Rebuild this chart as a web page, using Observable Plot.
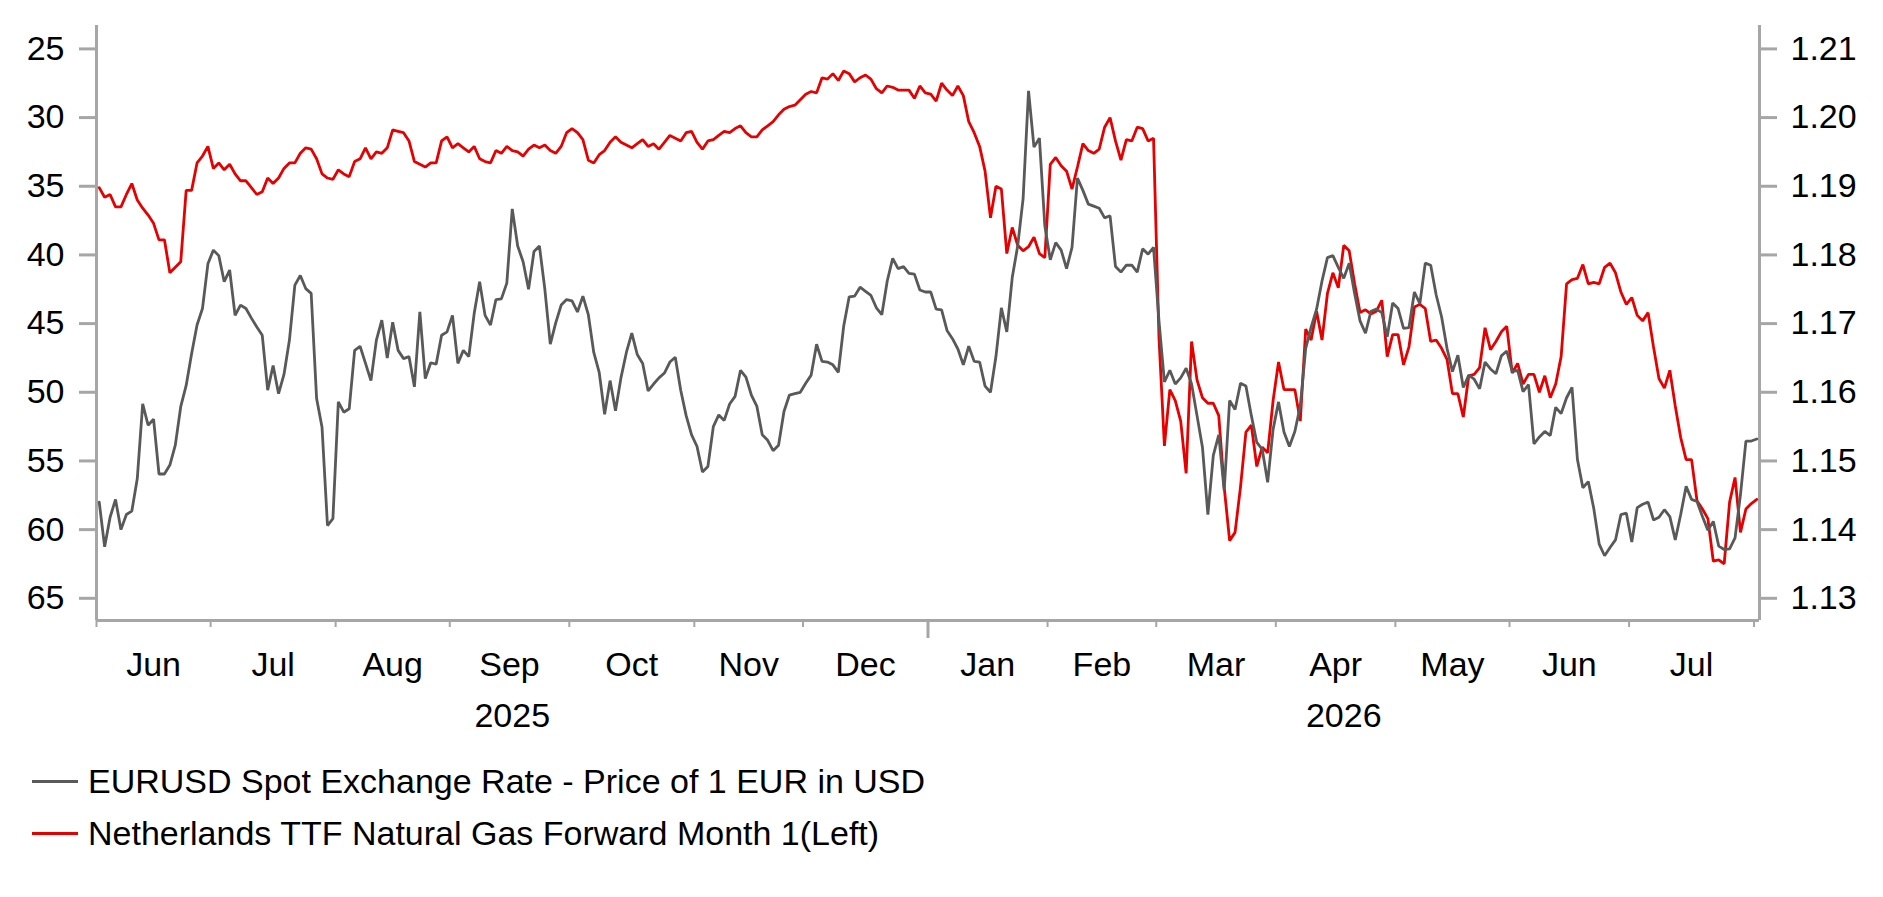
<!DOCTYPE html>
<html><head><meta charset="utf-8">
<script src="https://cdn.jsdelivr.net/npm/d3@7"></script>
<script src="https://cdn.jsdelivr.net/npm/@observablehq/plot@0.6"></script>
<style>
html,body{margin:0;padding:0;background:#fff;}
#chart{width:1883px;}
.legend{font-family:"Liberation Sans",Arial,sans-serif;font-size:34px;color:#000;}
.row{display:flex;align-items:center;height:52px;padding-left:32px;white-space:nowrap;}
.sw{display:inline-block;width:46px;height:3px;margin-right:10px;}
</style></head><body>
<div id="chart"></div>
<div class="legend" id="legend"></div>
<script>
// Business-day (category) axis: Jun 2, 2025 ... early Aug 2026, one slot per trading day
const monthLabels = ["Jun","Jul","Aug","Sep","Oct","Nov","Dec","Jan","Feb","Mar","Apr","May","Jun","Jul"];
const monthStarts = [0,21,44,65,87,110,130,153,175,195,217,239,260,282,305];
const yearLabels = ["2025","2026"];
const yearStarts = [0,153,306];
const slotCount = 306;

const leftTicks = [25,30,35,40,45,50,55,60,65];
const rightTicks = [1.13,1.14,1.15,1.16,1.17,1.18,1.19,1.20,1.21];

const seriesNames = ["EURUSD Spot Exchange Rate - Price of 1 EUR in USD","Netherlands TTF Natural Gas Forward Month 1(Left)"];

// Netherlands TTF front month (EUR/MWh), left axis (inverted)
const ttf = [35.1,35.8,35.6,36.5,36.5,35.6,34.8,36.0,36.6,37.1,
37.7,38.9,38.9,41.3,40.9,40.5,35.3,35.3,33.3,32.8,
32.1,33.7,33.3,33.8,33.4,34.1,34.6,34.6,35.1,35.6,
35.4,34.4,34.8,34.4,33.7,33.3,33.3,32.6,32.2,32.3,
33.0,34.1,34.4,34.5,33.8,34.1,34.3,33.2,33.0,32.2,
33.0,32.5,32.6,32.2,30.9,31.0,31.1,31.7,33.2,33.4,
33.6,33.3,33.3,31.7,31.4,32.2,31.9,32.2,32.5,32.1,
33.0,33.2,33.3,32.4,32.6,32.1,32.4,32.5,32.8,32.3,
32.0,32.2,32.0,32.4,32.6,32.1,31.1,30.8,31.1,31.6,
33.1,33.3,32.7,32.4,31.8,31.4,31.8,32.0,32.2,31.9,
31.6,32.1,31.9,32.3,31.8,31.3,31.5,31.7,31.1,31.0,
31.8,32.3,31.7,31.6,31.3,31.0,31.1,30.8,30.6,31.1,
31.4,31.4,30.9,30.6,30.3,29.8,29.4,29.2,29.1,28.7,
28.3,28.1,28.2,27.1,27.2,26.8,27.3,26.6,26.8,27.4,
27.1,26.9,27.2,27.9,28.2,27.7,27.8,28.0,28.0,28.0,
28.6,27.7,28.2,28.3,28.8,27.5,28.0,28.4,27.7,28.4,
30.3,31.1,32.1,33.9,37.3,35.0,35.2,39.9,38.0,39.3,
39.7,39.4,38.7,39.9,40.2,33.4,32.9,33.5,33.9,35.2,
33.6,31.9,32.4,32.6,32.3,30.7,30.0,31.7,33.1,31.6,
31.7,30.7,30.8,31.7,31.5,46.0,53.9,49.8,50.6,52.1,
55.9,46.3,49.1,50.4,50.8,50.8,51.7,56.9,60.8,60.2,
56.9,52.9,52.4,55.4,54.0,54.4,50.6,47.8,49.8,49.8,
49.8,52.1,45.4,46.2,44.1,46.2,42.8,41.3,42.4,39.3,
39.7,42.1,44.2,44.0,44.3,44.1,43.3,47.4,45.8,45.8,
48.0,46.7,43.8,43.6,43.9,46.3,46.2,46.8,47.6,50.1,
50.1,51.8,48.8,48.7,48.2,45.3,46.9,46.3,45.6,45.2,
48.6,47.9,49.4,48.7,48.7,50.0,48.8,50.4,49.4,47.4,
42.1,41.8,41.7,40.7,42.1,42.0,42.1,40.9,40.6,41.3,
42.7,43.6,43.1,44.4,44.8,44.2,46.7,49.0,49.7,48.4,
51.0,53.3,54.9,54.9,57.9,58.5,59.2,62.3,62.2,62.5,
58.0,56.2,60.2,58.5,58.1,57.8];

// EURUSD spot, right axis
const eurusd = [1.1440,1.1375,1.1418,1.1444,1.1400,1.1422,1.1427,1.1474,1.1583,1.1552,
1.1561,1.1481,1.1481,1.1494,1.1523,1.1579,1.1610,1.1656,1.1698,1.1722,
1.1787,1.1807,1.1799,1.1761,1.1778,1.1712,1.1727,1.1722,1.1708,1.1695,
1.1683,1.1603,1.1639,1.1598,1.1626,1.1676,1.1756,1.1770,1.1751,1.1744,
1.1591,1.1549,1.1406,1.1416,1.1586,1.1571,1.1576,1.1661,1.1667,1.1642,
1.1617,1.1676,1.1705,1.1650,1.1702,1.1661,1.1649,1.1652,1.1608,1.1717,
1.1620,1.1643,1.1641,1.1683,1.1688,1.1712,1.1642,1.1661,1.1652,1.1715,
1.1761,1.1712,1.1698,1.1735,1.1736,1.1759,1.1867,1.1813,1.1790,1.1750,
1.1805,1.1813,1.1750,1.1670,1.1701,1.1727,1.1735,1.1733,1.1717,1.1740,
1.1713,1.1658,1.1629,1.1568,1.1617,1.1573,1.1621,1.1658,1.1686,1.1655,
1.1642,1.1602,1.1612,1.1621,1.1628,1.1644,1.1651,1.1603,1.1566,1.1538,
1.1521,1.1484,1.1492,1.1550,1.1567,1.1559,1.1583,1.1594,1.1632,1.1622,
1.1596,1.1580,1.1538,1.1530,1.1515,1.1523,1.1572,1.1596,1.1598,1.1600,
1.1613,1.1625,1.1670,1.1645,1.1644,1.1640,1.1629,1.1697,1.1739,1.1740,
1.1753,1.1747,1.1741,1.1723,1.1713,1.1762,1.1795,1.1780,1.1783,1.1773,
1.1772,1.1749,1.1746,1.1746,1.1721,1.1720,1.1690,1.1678,1.1663,1.1640,
1.1667,1.1645,1.1644,1.1609,1.1600,1.1652,1.1723,1.1688,1.1767,1.1813,
1.1882,1.2039,1.1957,1.1970,1.1842,1.1793,1.1818,1.1807,1.1780,1.1811,
1.1912,1.1894,1.1874,1.1871,1.1868,1.1854,1.1857,1.1783,1.1775,1.1785,
1.1785,1.1775,1.1809,1.1801,1.1811,1.1704,1.1615,1.1632,1.1612,1.1621,
1.1635,1.1612,1.1566,1.1520,1.1422,1.1508,1.1538,1.1457,1.1588,1.1575,
1.1613,1.1609,1.1566,1.1527,1.1517,1.1469,1.1546,1.1586,1.1542,1.1521,
1.1543,1.1580,1.1664,1.1695,1.1721,1.1762,1.1796,1.1799,1.1782,1.1766,
1.1788,1.1744,1.1704,1.1686,1.1718,1.1721,1.1716,1.1681,1.1730,1.1722,
1.1693,1.1694,1.1746,1.1729,1.1788,1.1785,1.1742,1.1710,1.1664,1.1630,
1.1654,1.1607,1.1625,1.1619,1.1605,1.1644,1.1634,1.1627,1.1653,1.1660,
1.1630,1.1632,1.1601,1.1611,1.1525,1.1535,1.1543,1.1537,1.1578,1.1569,
1.1592,1.1607,1.1502,1.1461,1.1470,1.1431,1.1379,1.1362,1.1374,1.1385,
1.1422,1.1424,1.1382,1.1432,1.1437,1.1440,1.1414,1.1418,1.1429,1.1419,
1.1385,1.1422,1.1463,1.1444,1.1441,1.1419,1.1399,1.1412,1.1376,1.1371,
1.1372,1.1388,1.1451,1.1529,1.1529,1.1532];

const colors = {eur: "#595959", ttf: "#e60000", axis: "#a6a6a6"};

const W = 1883, H = 755;
const yTop = 23.296, yBottom = 66.616;
// right axis (EURUSD) aligned onto the left axis: 1.21 <-> 25, 1.13 <-> 65
const toLeft = d3.scaleLinear().domain([1.13, 1.21]).range([65, 25]);

const monthMarks = monthLabels.map((label, i) => ({x: (monthStarts[i] + monthStarts[i + 1]) / 2, label}));
const yearMarks = yearLabels.map((label, i) => ({x: (yearStarts[i] + yearStarts[i + 1]) / 2, label}));
const yearBoundary = yearStarts[1];

const chart = Plot.plot({
  width: W, height: H,
  marginTop: 25, marginBottom: H - 620, marginLeft: 96, marginRight: W - 1759,
  style: {fontFamily: '"Liberation Sans", Arial, sans-serif', fontSize: "34px", color: "#000", background: "#fff", overflow: "visible"},
  x: {type: "linear", domain: [0, slotCount], axis: null},
  y: {type: "linear", domain: [yBottom, yTop], axis: null},
  marks: [
    Plot.ruleX([0, slotCount], {stroke: colors.axis, strokeWidth: 3}),
    Plot.ruleY([yBottom], {stroke: colors.axis, strokeWidth: 3}),
    Plot.axisY(leftTicks, {anchor: "left", tickSize: 17, tickPadding: 15, stroke: colors.axis, strokeWidth: 3, fill: "#000", fontSize: 34, label: null}),
    Plot.axisY(rightTicks.map(toLeft), {anchor: "right", tickSize: 17, tickPadding: 14, tickFormat: y => toLeft.invert(y).toFixed(2), stroke: colors.axis, strokeWidth: 3, fill: "#000", fontSize: 34, label: null}),
    Plot.axisX(monthStarts.filter(d => d !== yearBoundary), {anchor: "bottom", tickSize: 7, stroke: colors.axis, strokeWidth: 2, fill: "none", tickFormat: () => "", label: null}),
    Plot.axisX([yearBoundary], {anchor: "bottom", tickSize: 18, stroke: colors.axis, strokeWidth: 3, fill: "none", tickFormat: () => "", label: null}),
    Plot.text(monthMarks, {x: "x", text: "label", frameAnchor: "bottom", dy: 55, fontSize: 34, fill: "#000"}),
    Plot.text(yearMarks, {x: "x", text: "label", frameAnchor: "bottom", dy: 106, fontSize: 34, fill: "#000"}),
    Plot.line(ttf, {x: (d, i) => i + 0.5, y: d => d, stroke: colors.ttf, strokeWidth: 2.8, strokeLinejoin: "miter"}),
    Plot.line(eurusd, {x: (d, i) => i + 0.5, y: d => toLeft(d), stroke: colors.eur, strokeWidth: 2.8, strokeLinejoin: "miter"})
  ]
});
document.getElementById("chart").appendChild(chart);

const legend = document.getElementById("legend");
[[seriesNames[0], colors.eur], [seriesNames[1], colors.ttf]].forEach(([name, c]) => {
  const row = document.createElement("div");
  row.className = "row";
  const sw = document.createElement("span");
  sw.className = "sw";
  sw.style.background = c;
  const t = document.createElement("span");
  t.textContent = name;
  row.appendChild(sw); row.appendChild(t);
  legend.appendChild(row);
});
</script></body></html>
